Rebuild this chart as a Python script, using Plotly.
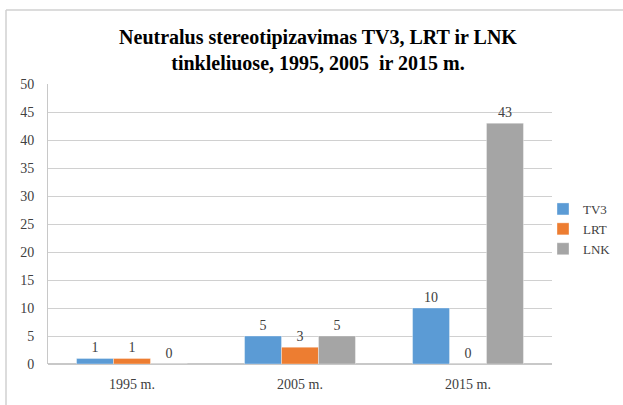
import plotly.graph_objects as go

categories = ["1995 m.", "2005 m.", "2015 m."]
series_names = ["TV3", "LRT", "LNK"]
tv3_values = [1, 5, 10]
lrt_values = [1, 3, 0]
lnk_values = [0, 5, 43]
y_ticks = [0, 5, 10, 15, 20, 25, 30, 35, 40, 45, 50]
title_text = "Neutralus stereotipizavimas TV3, LRT ir LNK<br>tinkleliuose, 1995, 2005  ir 2015 m."

colors = ["#5B9BD5", "#ED7D31", "#A5A5A5"]
serif = "Times New Roman, Liberation Serif, serif"

fig = go.Figure()
for name, vals, col in zip(series_names, [tv3_values, lrt_values, lnk_values], colors):
    fig.add_trace(go.Bar(
        name=name, x=categories, y=vals,
        marker=dict(color=col, line=dict(color="rgba(255,255,255,0.6)", width=0.6)),
        text=[str(v) for v in vals], textposition="outside",
        textfont=dict(family=serif, size=14, color="#404040"),
        cliponaxis=False,
    ))

W, H = 623, 405
L, R, T, B = 48, 71, 84, 41
pw, ph = W - L - R, H - T - B

def px_x(p):
    return (p - L) / pw

def px_y(p):
    return (H - B - p) / ph

fig.update_layout(
    width=W, height=H,
    margin=dict(l=L, r=R, t=T, b=B, pad=0, autoexpand=False),
    paper_bgcolor="white", plot_bgcolor="white",
    barmode="group", bargap=0.34, bargroupgap=0,
    font=dict(family=serif, color="#404040"),
    title=dict(text=title_text, x=318 / W, xref="container", xanchor="center",
               y=1 - 44 / H, yref="container", yanchor="middle",
               font=dict(family=serif, size=20, color="#000000", weight="bold")),
    legend=dict(x=px_x(543), y=px_y(229), xanchor="left", yanchor="middle",
                bgcolor="rgba(0,0,0,0)", font=dict(family=serif, size=13, color="#404040"),
                itemwidth=30, tracegroupgap=0),
    xaxis=dict(showgrid=False, showline=False, ticks="", zeroline=False, automargin=False,
               ticklabelstandoff=10,
               tickfont=dict(family=serif, size=14, color="#404040")),
    yaxis=dict(range=[0, 50], tickvals=y_ticks, showgrid=True, gridcolor="#D0D0D0",
               gridwidth=1, showline=True, linecolor="#C8C8C8", linewidth=1, automargin=False,
               zeroline=True, zerolinecolor="#C8C8C8", ticks="", ticklabelstandoff=10,
               tickfont=dict(family=serif, size=14, color="#404040")),
    shapes=[
        dict(type="line", xref="paper", yref="paper", x0=px_x(6), x1=px_x(640),
             y0=px_y(10), y1=px_y(10), line=dict(color="#D0D0D0", width=1.5)),
        dict(type="line", xref="paper", yref="paper", x0=px_x(6), x1=px_x(6),
             y0=px_y(10), y1=px_y(420), line=dict(color="#D0D0D0", width=1.5)),
    ],
)

fig.write_html("out.html", config={"displayModeBar": False},
               post_script="document.body.style.margin='0px';")
